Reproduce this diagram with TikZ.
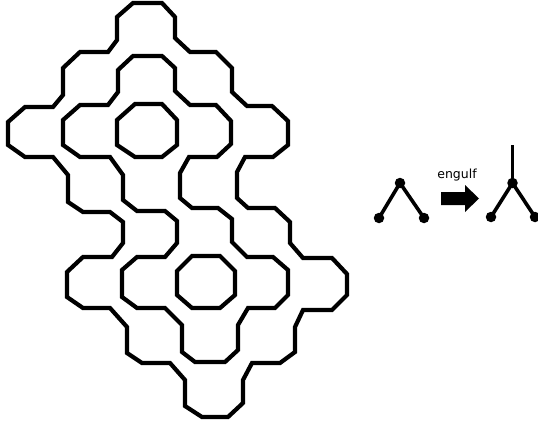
\documentclass[tikz,border=0pt]{standalone}
\usepackage{fontspec}
\setmainfont{Liberation Sans}
\newfontfamily\labelfont{DejaVu Sans}
\begin{document}
\begin{tikzpicture}[x=1pt,y=-1pt,
  loopline/.style={draw=black,line width=4.2pt,line join=miter},
  treeline/.style={draw=black,line width=3.6pt},
  dotnode/.style={circle,fill=black,inner sep=0pt,minimum size=10.5pt},
  blockarrow/.style={fill=black,draw=none}]
\useasboundingbox (0,0) rectangle (538,425);
\fill[white] (0,0) rectangle (538,425);

% outer loop
\draw[loopline] (133,3) -- (162,3) -- (175,17) -- (175,38) -- (190,52) -- (216,52) -- (232,68) -- (232,92) -- (247,106) -- (272,106) -- (288,121) -- (288,145) -- (273,157) -- (245,157) -- (237,172) -- (237,198) -- (248,208) -- (275,208) -- (290,222) -- (290,243) -- (303,258) -- (332,258) -- (347,274) -- (347,295) -- (332,310) -- (303,310) -- (295,327) -- (295,352) -- (280,363) -- (252,363) -- (243,380) -- (243,403) -- (228,417) -- (202,417) -- (185,406) -- (185,380) -- (170,363) -- (142,363) -- (127,353) -- (127,327) -- (110,308) -- (83,308) -- (67,297) -- (67,272) -- (83,257) -- (112,257) -- (123,243) -- (123,222) -- (110,212) -- (83,212) -- (68,202) -- (68,175) -- (53,157) -- (25,157) -- (8,145) -- (8,122) -- (25,107) -- (53,107) -- (63,95) -- (63,68) -- (80,52) -- (108,52) -- (117,40) -- (117,17) -- cycle;

% middle loop
\draw[loopline] (133,56) -- (162,56) -- (175,68) -- (175,91) -- (190,105) -- (216,105) -- (231,121) -- (231,144) -- (217,157) -- (189,157) -- (180,173) -- (180,198) -- (192,208) -- (218,208) -- (232,219) -- (232,242) -- (247,257) -- (273,257) -- (288,270) -- (288,295) -- (275,308) -- (248,308) -- (238,325) -- (238,350) -- (225,362) -- (195,362) -- (182,352) -- (182,325) -- (165,308) -- (137,308) -- (122,297) -- (122,270) -- (137,257) -- (165,257) -- (177,243) -- (177,221) -- (165,211) -- (137,211) -- (123,200) -- (123,175) -- (110,157) -- (80,157) -- (63,145) -- (63,120) -- (80,105) -- (108,105) -- (118,92) -- (118,70) -- cycle;

% octagons
\draw[loopline] (135,104) -- (162,104) -- (177,120) -- (177,145) -- (162,157) -- (135,157) -- (117,145) -- (117,120) -- cycle;
\draw[loopline] (192,256) -- (220,256) -- (235,271) -- (235,295) -- (220,308) -- (192,308) -- (177,295) -- (177,271) -- cycle;

% left tree
\node[dotnode] (la) at (400,183) {};
\node[dotnode] (ll) at (379,218) {};
\node[dotnode] (lr) at (424,218) {};
\draw[treeline] (la.center) -- (ll.center);
\draw[treeline] (la.center) -- (lr.center);

% label and arrow
\node[font=\labelfont\fontsize{12.5}{12.5}\selectfont,inner sep=0pt,anchor=base] (lbl) at (457,178) {engulf};
\fill[blockarrow] (441,192) -- (465,192) -- (465,185) -- (479,198.5) -- (465,212) -- (465,205) -- (441,205) -- cycle;

% right tree
\coordinate (rt) at (512.5,145);
\node[dotnode] (ra) at (512.5,183) {};
\node[dotnode] (rl) at (491,217) {};
\node[dotnode] (rr) at (535,217) {};
\draw[treeline] (ra.center) -- (rt);
\draw[treeline] (ra.center) -- (rl.center);
\draw[treeline] (ra.center) -- (rr.center);
\end{tikzpicture}
\end{document}
